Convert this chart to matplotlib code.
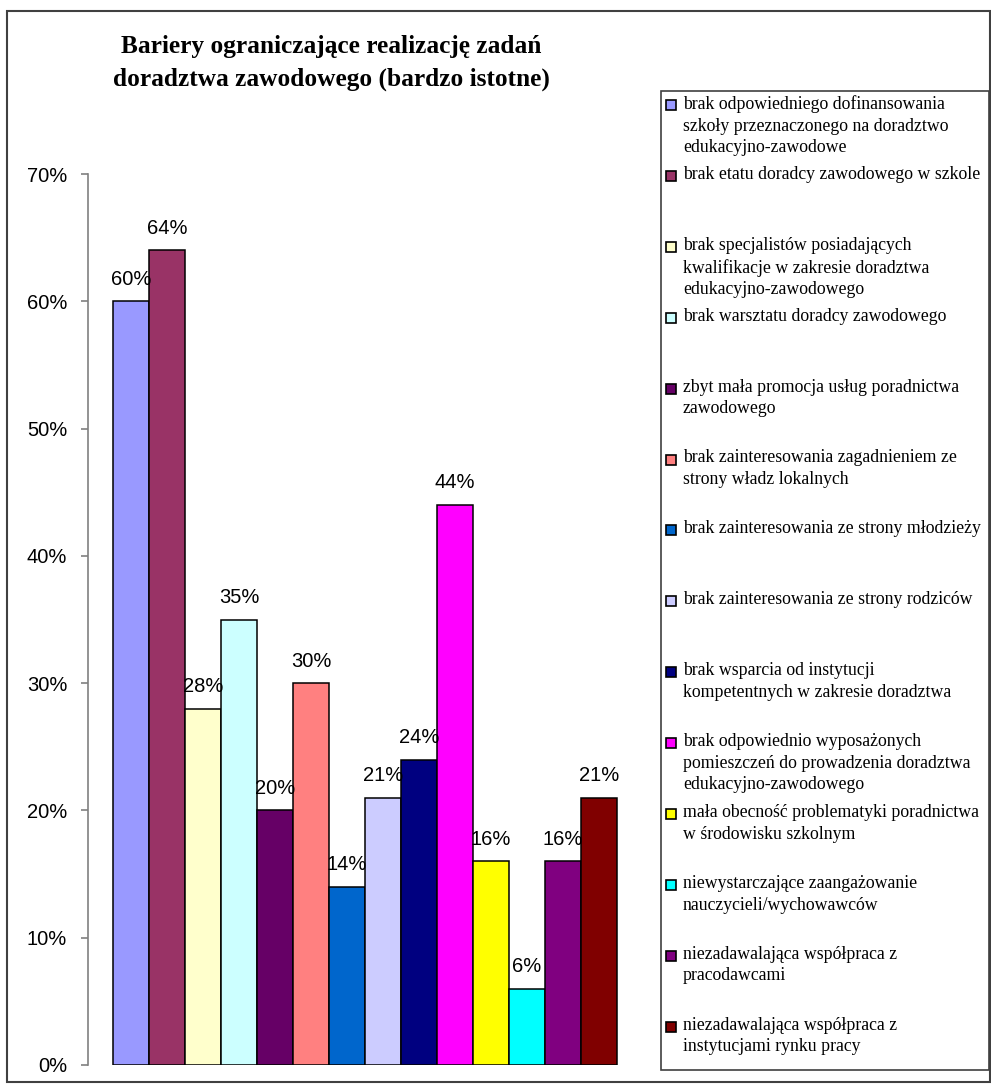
import matplotlib
matplotlib.use("Agg")
import matplotlib.pyplot as plt
from matplotlib.patches import Rectangle
from matplotlib.ticker import PercentFormatter

# Data
labels = [
    "brak odpowiedniego dofinansowania\nszkoły przeznaczonego na doradztwo\nedukacyjno-zawodowe",
    "brak etatu doradcy zawodowego w szkole",
    "brak specjalistów posiadających\nkwalifikacje w zakresie doradztwa\nedukacyjno-zawodowego",
    "brak warsztatu doradcy zawodowego",
    "zbyt mała promocja usług poradnictwa\nzawodowego",
    "brak zainteresowania zagadnieniem ze\nstrony władz lokalnych",
    "brak zainteresowania ze strony młodzieży",
    "brak zainteresowania ze strony rodziców",
    "brak wsparcia od instytucji\nkompetentnych w zakresie doradztwa",
    "brak odpowiednio wyposażonych\npomieszczeń do prowadzenia doradztwa\nedukacyjno-zawodowego",
    "mała obecność problematyki poradnictwa\nw środowisku szkolnym",
    "niewystarczające zaangażowanie\nnauczycieli/wychowawców",
    "niezadawalająca współpraca z\npracodawcami",
    "niezadawalająca współpraca z\ninstytucjami rynku pracy",
]
values = [60, 64, 28, 35, 20, 30, 14, 21, 24, 44, 16, 6, 16, 21]
colors = ["#9999FF", "#993366", "#FFFFCC", "#CCFFFF", "#660066", "#FF8080", "#0066CC",
          "#CCCCFF", "#000080", "#FF00FF", "#FFFF00", "#00FFFF", "#800080", "#800000"]
y_ticks = [0, 10, 20, 30, 40, 50, 60, 70]

W, H = 991, 1090
fig = plt.figure(figsize=(W / 100, H / 100), dpi=100)

# outer chart frame
fig.patches.append(Rectangle((7 / W, 1 - 1082 / H), (990 - 7) / W, (1082 - 11) / H,
                             transform=fig.transFigure, fill=False,
                             edgecolor="#404040", linewidth=1.5))

ax = fig.add_axes([88 / W, 1 - 1065 / H, 554 / W, 891 / H])
x = list(range(len(values)))
ax.bar(x, values, width=1.0, align="edge", color=colors, edgecolor="black", linewidth=1.1)
for xi, v in zip(x, values):
    ax.annotate(f"{v}%", (xi + 0.5, v), xytext=(0, 22), textcoords="offset pixels",
                ha="center", va="center", fontsize=14.5, family="Liberation Sans")

ax.set_xlim(-0.7, len(values) + 0.7)
ax.set_ylim(0, 70)
ax.set_yticks(y_ticks)
ax.yaxis.set_major_formatter(PercentFormatter(decimals=0))
ax.set_xticks([])
for s in ["top", "right", "bottom"]:
    ax.spines[s].set_visible(False)
ax.spines["left"].set_color("#808080")
ax.spines["left"].set_linewidth(1.2)
ax.tick_params(axis="y", length=5, width=1.2, color="#808080", pad=10, labelsize=14.5)
for t in ax.get_yticklabels():
    t.set_family("Liberation Sans")

fig.text(331 / W, 1 - 63 / H,
         "Bariery ograniczające realizację zadań\ndoradztwa zawodowego (bardzo istotne)",
         ha="center", va="center", fontsize=18.3, fontweight="bold",
         family="Liberation Serif", linespacing=1.55)

# legend box, one evenly spaced slot per series
fig.patches.append(Rectangle((661 / W, 1 - 1070 / H), (989 - 661) / W, (1070 - 91) / H,
                             transform=fig.transFigure, fill=False,
                             edgecolor="#404040", linewidth=1.2))
slot = 70.9
for i, (lab, c) in enumerate(zip(labels, colors)):
    top = 95 + i * slot
    fig.patches.append(Rectangle((666 / W, 1 - (top + 15) / H), 10 / W, 10 / H,
                                 transform=fig.transFigure, facecolor=c,
                                 edgecolor="black", linewidth=1.2))
    fig.text(683 / W, 1 - top / H, lab, ha="left", va="top", fontsize=12.8,
             family="Liberation Serif", linespacing=1.36)

fig.savefig("out.png", dpi=100)
